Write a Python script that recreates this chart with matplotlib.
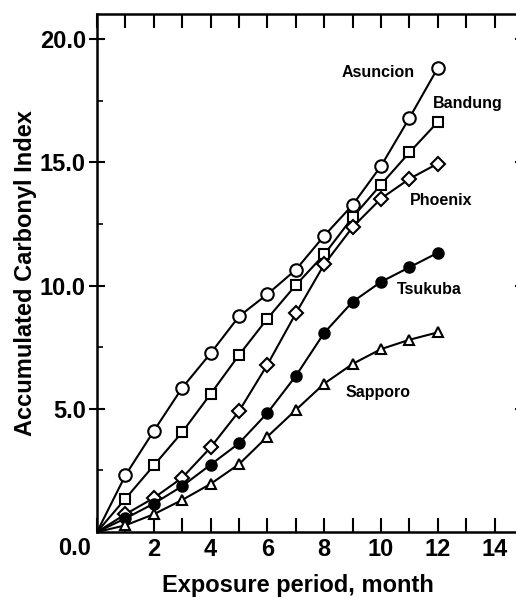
import matplotlib
matplotlib.use('Agg')
import matplotlib.pyplot as plt

# Exposure months (0 = start, no marker drawn there)
months = [0, 1, 2, 3, 4, 5, 6, 7, 8, 9, 10, 11, 12]

asuncion = [0, 2.3, 4.1, 5.85, 7.25, 8.75, 9.65, 10.64, 12.02, 13.27, 14.85, 16.8, 18.83]
bandung = [0, 1.35, 2.7, 4.05, 5.6, 7.18, 8.66, 10.02, 11.26, 12.77, 14.1, 15.4, 16.64]
phoenix = [0, 0.72, 1.38, 2.2, 3.43, 4.9, 6.79, 8.87, 10.86, 12.37, 13.53, 14.33, 14.95]
tsukuba = [0, 0.55, 1.15, 1.86, 2.73, 3.6, 4.83, 6.33, 8.08, 9.34, 10.15, 10.74, 11.33]
sapporo = [0, 0.27, 0.72, 1.3, 1.95, 2.75, 3.87, 4.95, 6.02, 6.82, 7.42, 7.8, 8.1]

# Site name labels (x, y in data units)
site_labels = ['Asuncion', 'Bandung', 'Phoenix', 'Tsukuba', 'Sapporo']
label_x = [9.9, 13.05, 12.1, 11.7, 9.9]
label_y = [18.65, 17.4, 13.47, 9.84, 5.67]

x_ticks = [2, 4, 6, 8, 10, 12, 14]
y_ticks = [5, 10, 15, 20]

plt.rcParams['font.family'] = ['Liberation Sans', 'DejaVu Sans']

fig = plt.figure(figsize=(5.16, 5.98), dpi=100)
ax = fig.add_axes([0.188, 0.1104, 0.8256, 0.8654])

series = [
    (asuncion, dict(marker='o', mfc='white', ms=9)),
    (bandung, dict(marker='s', mfc='white', ms=7)),
    (phoenix, dict(marker='D', mfc='white', ms=7)),
    (tsukuba, dict(marker='o', mfc='black', ms=7.5)),
    (sapporo, dict(marker='^', mfc='white', ms=7)),
]
for values, style in series:
    ax.plot(months, values, color='black', lw=1.5, mec='black', mew=1.5,
            markevery=list(range(1, len(months))), **style)

for name, lx, ly in zip(site_labels, label_x, label_y):
    ax.text(lx, ly, name, ha='center', va='center', fontsize=11.5,
            fontweight='bold')

ax.set_xlim(0, 15)
ax.set_ylim(0, 21)

ax.set_xticks(range(0, 16), minor=True)
ax.set_xticks(x_ticks)
ax.set_xticklabels([str(t) for t in x_ticks], fontsize=17, fontweight='bold')
ax.set_yticks([2.5, 7.5, 12.5, 17.5], minor=True)
ax.set_yticks(y_ticks)
ax.set_yticklabels(['%.1f' % t for t in y_ticks], fontsize=17,
                   fontweight='bold')

ax.tick_params(axis='x', which='both', direction='in', top=True, length=10,
               width=1.5, pad=4)
ax.tick_params(axis='y', which='major', direction='inout', right=True,
               length=12, width=1.5, pad=2)
ax.tick_params(axis='y', which='minor', direction='in', right=True,
               length=4, width=1.2)
for side in ax.spines.values():
    side.set_linewidth(1.8)

# "0.0" sits on the x tick label row, left of the spine
ax.text(-0.015, -0.031, '0.0', transform=ax.transAxes, ha='right',
        va='center', fontsize=17, fontweight='bold')

ax.set_xlabel('Exposure period, month', fontsize=17, fontweight='bold',
              va='center')
ax.xaxis.set_label_coords(0.472, -0.104)
ax.set_ylabel('Accumulated Carbonyl Index', fontsize=17, fontweight='bold',
              va='center')
ax.yaxis.set_label_coords(-0.168, 0.5)

fig.savefig('out.png', dpi=100)
